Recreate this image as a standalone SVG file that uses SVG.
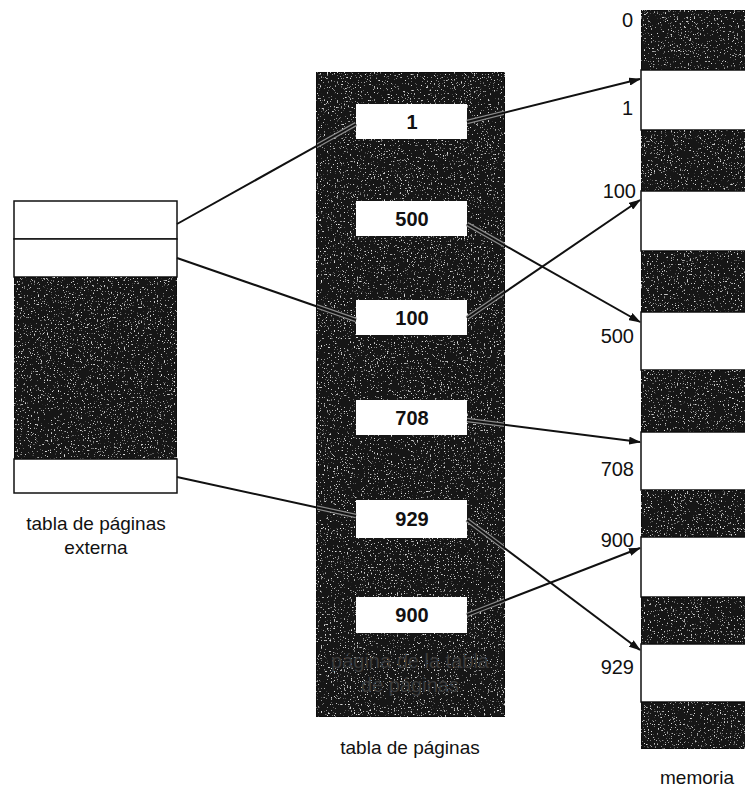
<svg xmlns="http://www.w3.org/2000/svg" width="745" height="789" viewBox="0 0 745 789">
<defs>
<style>
.dark{fill:#121212;stroke:#111;stroke-width:1.5;filter:url(#grain)}
.white{fill:#fff;stroke:#111;stroke-width:1.5}
.cell{fill:#fff;stroke:none}
.lbl{font-family:"Liberation Sans",Arial,sans-serif;font-size:20px;fill:#111}
.num{font-family:"Liberation Sans",Arial,sans-serif;font-size:20px;font-weight:bold;fill:#111;text-anchor:middle}
.cap{font-family:"Liberation Sans",Arial,sans-serif;font-size:19px;fill:#111;text-anchor:middle}
.faint{font-family:"Liberation Sans",Arial,sans-serif;font-size:20px;fill:#3c3c3c;text-anchor:middle}
.conn line{stroke:#111;stroke-width:2}
.halo line{stroke:#8a8a8a;stroke-width:4.5}
</style>
<filter id="grain" x="0" y="0" width="100%" height="100%">
<feTurbulence type="fractalNoise" baseFrequency="0.7" numOctaves="2" seed="4" result="n"/>
<feColorMatrix in="n" type="matrix" values="0 0 0 0 0.75  0 0 0 0 0.75  0 0 0 0 0.75  7 0 0 0 -4.5" result="specks"/>
<feComposite in="specks" in2="SourceGraphic" operator="in" result="clip"/>
<feMerge><feMergeNode in="SourceGraphic"/><feMergeNode in="clip"/></feMerge>
</filter>
<clipPath id="midclip"><rect x="317" y="73" width="187" height="643"/></clipPath>
<marker id="arr" markerWidth="12" markerHeight="8" refX="11" refY="4" orient="auto" markerUnits="userSpaceOnUse">
<path d="M0,0 L12,4 L0,8 Z" fill="#111"/>
</marker>
</defs>
<rect width="745" height="789" fill="#fff"/>

<g id="outer-table">
<rect class="white" x="14" y="201" width="163" height="38"/>
<rect class="white" x="14" y="239" width="163" height="38"/>
<rect class="dark" x="14" y="277" width="163" height="182"/>
<rect class="white" x="14" y="459" width="163" height="34"/>
<text class="cap" x="96" y="530">tabla de páginas</text>
<text class="cap" x="96" y="554">externa</text>
</g>

<g id="page-table">
<rect class="dark" x="316" y="72" width="189" height="645"/>
<rect class="cell" x="356" y="104" width="111" height="35"/>
<rect class="cell" x="356" y="201" width="111" height="35"/>
<rect class="cell" x="356" y="300" width="111" height="35"/>
<rect class="cell" x="356" y="400" width="111" height="35"/>
<rect class="cell" x="356" y="500" width="111" height="38"/>
<rect class="cell" x="356" y="597" width="111" height="36"/>
<text class="num" x="412" y="129">1</text>
<text class="num" x="412" y="226">500</text>
<text class="num" x="412" y="325">100</text>
<text class="num" x="412" y="425">708</text>
<text class="num" x="412" y="526">929</text>
<text class="num" x="412" y="622">900</text>
<text class="faint" x="410" y="668">página de la tabla</text>
<text class="faint" x="410" y="692">de páginas</text>
<text class="cap" x="410" y="754">tabla de páginas</text>
</g>

<g id="memory">
<rect class="dark" x="641" y="10" width="110" height="60"/>
<rect class="white" x="641" y="70" width="110" height="60"/>
<rect class="dark" x="641" y="130" width="110" height="61"/>
<rect class="white" x="641" y="191" width="110" height="60"/>
<rect class="dark" x="641" y="251" width="110" height="61"/>
<rect class="white" x="641" y="312" width="110" height="58"/>
<rect class="dark" x="641" y="370" width="110" height="62"/>
<rect class="white" x="641" y="432" width="110" height="58"/>
<rect class="dark" x="641" y="490" width="110" height="47"/>
<rect class="white" x="641" y="537" width="110" height="60"/>
<rect class="dark" x="641" y="597" width="110" height="47"/>
<rect class="white" x="641" y="644" width="110" height="58"/>
<rect class="dark" x="641" y="702" width="110" height="47"/>
<text class="lbl" x="633" y="27" text-anchor="end">0</text>
<text class="lbl" x="633" y="115" text-anchor="end">1</text>
<text class="lbl" x="636" y="198" text-anchor="end">100</text>
<text class="lbl" x="634" y="343" text-anchor="end">500</text>
<text class="lbl" x="634" y="476" text-anchor="end">708</text>
<text class="lbl" x="634" y="547" text-anchor="end">900</text>
<text class="lbl" x="634" y="674" text-anchor="end">929</text>
<text class="cap" x="697" y="784">memoria</text>
</g>

<g id="connectors">
<g class="halo" clip-path="url(#midclip)">
<line x1="177" y1="224" x2="356" y2="124"/>
<line x1="177" y1="258" x2="356" y2="320"/>
<line x1="177" y1="477" x2="356" y2="516"/>
<line x1="467" y1="122" x2="640" y2="79"/>
<line x1="467" y1="224" x2="640" y2="322"/>
<line x1="467" y1="318" x2="640" y2="200"/>
<line x1="467" y1="420" x2="640" y2="442"/>
<line x1="467" y1="520" x2="640" y2="650"/>
<line x1="467" y1="615" x2="640" y2="548"/>
</g>
<g class="conn">
<line x1="177" y1="224" x2="356" y2="124"/>
<line x1="177" y1="258" x2="356" y2="320"/>
<line x1="177" y1="477" x2="356" y2="516"/>
<line x1="467" y1="122" x2="640" y2="79" marker-end="url(#arr)"/>
<line x1="467" y1="224" x2="640" y2="322" marker-end="url(#arr)"/>
<line x1="467" y1="318" x2="640" y2="200" marker-end="url(#arr)"/>
<line x1="467" y1="420" x2="640" y2="442" marker-end="url(#arr)"/>
<line x1="467" y1="520" x2="640" y2="650" marker-end="url(#arr)"/>
<line x1="467" y1="615" x2="640" y2="548" marker-end="url(#arr)"/>
</g>
</g>
</svg>
